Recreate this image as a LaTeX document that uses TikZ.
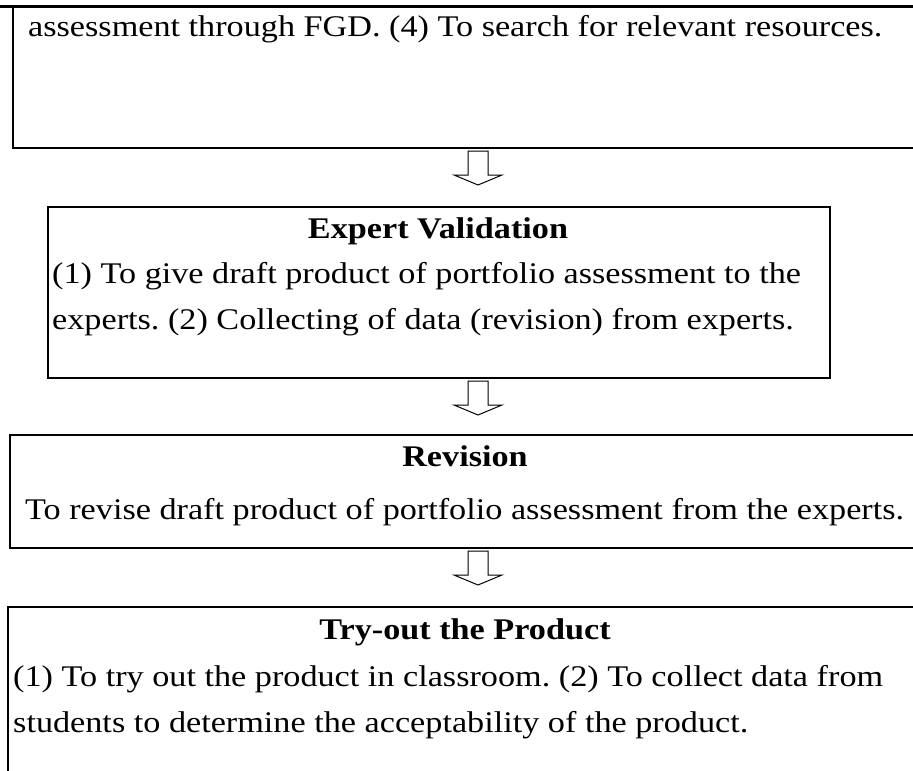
\documentclass[tikz,border=0pt]{standalone}
\usepackage{fontspec}
\setmainfont{Liberation Serif}[FakeStretch=1.14]
\frenchspacing
\begin{document}
\begin{tikzpicture}[x=1pt,y=-1pt,
  boxline/.style={draw=black,line width=2pt},
  txt/.style={inner sep=0pt,anchor=base west,font=\fontsize{30}{36}\selectfont},
  ttl/.style={inner sep=0pt,anchor=base,font=\fontsize{30}{36}\selectfont\bfseries},
  arrowline/.style={draw=black,line width=1pt,line join=miter}]
\useasboundingbox (0,0) rectangle (913,771);
% boxes
\draw[line width=3pt] (0,6) -- (913,6);
\draw[boxline] (930,148) -- (13,148) -- (13,6);
\node[boxline,anchor=north west,minimum width=782pt,minimum height=171pt,inner sep=0pt] (ev) at (47,206) {};
\node[boxline,anchor=north west,minimum width=940pt,minimum height=113pt,inner sep=0pt] (rev) at (9,434) {};
\node[boxline,anchor=north west,minimum width=940pt,minimum height=200pt,inner sep=0pt] (try) at (7,606) {};
% texts
\node[txt] (t0) at (28,36) {assessment through FGD. (4) To search for relevant resources.};
\node[ttl] (evt) at (438,238) {Expert Validation};
\node[txt] (ev1) at (52,283) {(1) To give draft product of portfolio assessment to the};
\node[txt] (ev2) at (52,329) {experts. (2) Collecting of data (revision) from experts.};
\node[ttl] (revt) at (465,466) {Revision};
\node[txt] (rev1) at (25,519) {To revise draft product of portfolio assessment from the experts.};
\node[ttl] (tryt) at (465,639) {Try-out the Product};
\node[txt] (try1) at (13,686) {(1) To try out the product in classroom. (2) To collect data from};
\node[txt] (try2) at (13,732) {students to determine the acceptability of the product.};
% hollow arrows
\coordinate (a1) at (478,151);
\coordinate (a2) at (478,381);
\coordinate (a3) at (478,551);
\foreach \a in {a1,a2,a3}{
  \draw[arrowline] ([xshift=-10pt]\a) -- ++(0,24) -- ++(-14,0) -- ++(24,10) -- ++(24,-10) -- ++(-14,0) -- ++(0,-24) -- cycle;
}
\end{tikzpicture}
\end{document}
